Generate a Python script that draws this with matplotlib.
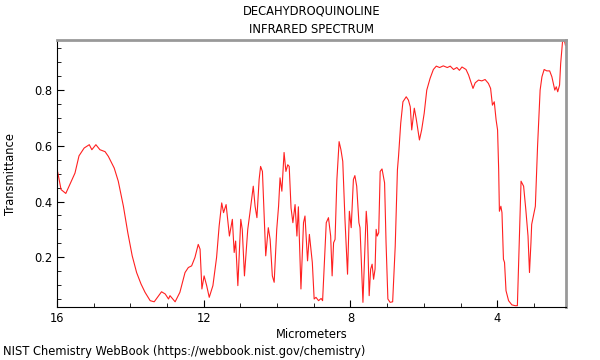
import numpy as np
import matplotlib.pyplot as plt

# spectrum (micrometers, transmittance)
micrometers = [
    15.98, 15.89, 15.76, 15.65, 15.51, 15.40, 15.26, 15.12, 15.05, 14.94,
    14.83, 14.69, 14.60, 14.44, 14.33, 14.19, 14.07, 13.95, 13.83, 13.71,
    13.60, 13.46, 13.35, 13.15, 13.05, 12.96, 12.92, 12.78, 12.65, 12.51,
    12.42, 12.33, 12.24, 12.15, 12.10, 12.05, 11.99, 11.92, 11.85, 11.75,
    11.65, 11.58, 11.51, 11.46, 11.39, 11.30, 11.22, 11.17, 11.13, 11.07,
    10.99, 10.95, 10.89, 10.80, 10.74, 10.65, 10.60, 10.55, 10.49, 10.45,
    10.40, 10.31, 10.24, 10.19, 10.13, 10.08, 10.01, 9.96, 9.92, 9.87,
    9.81, 9.76, 9.71, 9.67, 9.62, 9.57, 9.51, 9.46, 9.42, 9.35,
    9.28, 9.24, 9.17, 9.12, 9.04, 8.99, 8.94, 8.87, 8.80, 8.76,
    8.66, 8.60, 8.54, 8.50, 8.46, 8.42, 8.37, 8.31, 8.26, 8.21,
    8.15, 8.08, 8.03, 7.98, 7.92, 7.88, 7.83, 7.77, 7.74, 7.66,
    7.62, 7.57, 7.54, 7.49, 7.45, 7.41, 7.37, 7.33, 7.30, 7.27,
    7.23, 7.19, 7.14, 7.07, 7.03, 6.98, 6.92, 6.85, 6.78, 6.72,
    6.69, 6.63, 6.57, 6.48, 6.42, 6.37, 6.33, 6.26, 6.21, 6.12,
    6.06, 5.99, 5.92, 5.83, 5.74, 5.66, 5.57, 5.47, 5.36, 5.28,
    5.19, 5.10, 5.03, 4.96, 4.85, 4.78, 4.71, 4.66, 4.60, 4.51,
    4.42, 4.33, 4.24, 4.18, 4.13, 4.08, 4.03, 3.99, 3.96, 3.94,
    3.90, 3.87, 3.83, 3.80, 3.76, 3.69, 3.60, 3.51, 3.45, 3.39,
    3.35, 3.28, 3.22, 3.16, 3.12, 3.08, 3.06, 2.96, 2.90, 2.83,
    2.78, 2.72, 2.65, 2.57, 2.51, 2.47, 2.43, 2.39, 2.35, 2.30,
    2.27, 2.22, 2.17, 2.14,
]
transmittance = [
    0.505, 0.443, 0.429, 0.461, 0.502, 0.564, 0.592, 0.604, 0.586, 0.604,
    0.586, 0.579, 0.562, 0.520, 0.473, 0.383, 0.288, 0.205, 0.145, 0.104,
    0.074, 0.044, 0.040, 0.076, 0.068, 0.050, 0.062, 0.040, 0.074, 0.145,
    0.163, 0.169, 0.199, 0.246, 0.229, 0.086, 0.133, 0.098, 0.056, 0.098,
    0.199, 0.312, 0.395, 0.360, 0.389, 0.276, 0.336, 0.217, 0.258, 0.098,
    0.336, 0.300, 0.133, 0.300, 0.360, 0.455, 0.383, 0.342, 0.479, 0.526,
    0.508, 0.205, 0.306, 0.264, 0.133, 0.110, 0.300, 0.383, 0.485, 0.437,
    0.576, 0.508, 0.532, 0.526, 0.377, 0.324, 0.389, 0.276, 0.381, 0.086,
    0.324, 0.348, 0.187, 0.282, 0.181, 0.050, 0.056, 0.044, 0.052, 0.044,
    0.324, 0.342, 0.276, 0.133, 0.252, 0.264, 0.479, 0.615, 0.586, 0.544,
    0.336, 0.139, 0.365, 0.306, 0.479, 0.493, 0.455, 0.324, 0.306, 0.038,
    0.181, 0.365, 0.312, 0.062, 0.157, 0.175, 0.121, 0.157, 0.300, 0.276,
    0.288, 0.508, 0.517, 0.467, 0.252, 0.050, 0.038, 0.040, 0.240, 0.514,
    0.562, 0.681, 0.758, 0.776, 0.764, 0.740, 0.657, 0.735, 0.699, 0.621,
    0.657, 0.717, 0.800, 0.842, 0.874, 0.886, 0.881, 0.887, 0.881, 0.886,
    0.874, 0.881, 0.871, 0.883, 0.874, 0.854, 0.826, 0.806, 0.826, 0.836,
    0.833, 0.838, 0.824, 0.806, 0.746, 0.758, 0.693, 0.657, 0.514, 0.365,
    0.383, 0.360, 0.193, 0.181, 0.080, 0.044, 0.029, 0.026, 0.026, 0.300,
    0.473, 0.455, 0.371, 0.276, 0.145, 0.252, 0.318, 0.383, 0.598, 0.800,
    0.848, 0.874, 0.869, 0.869, 0.848, 0.824, 0.800, 0.812, 0.794, 0.818,
    0.895, 0.973, 0.979, 0.961,
]

fs = 8.3

fig = plt.figure(figsize=(6, 3.6), dpi=100)
ax = fig.add_axes([0.095, 0.147, 0.848, 0.742])

ax.plot(micrometers, transmittance, color='#ff2020', lw=0.8)

ax.set_xlim(16, 2.13)
ax.set_ylim(0.021, 0.98)
ax.set_xticks([16, 12, 8, 4])
ax.set_xticks(np.arange(3, 16, 1), minor=True)
ax.set_yticks([0.2, 0.4, 0.6, 0.8])
ax.set_yticks(np.arange(0.05, 0.98, 0.05), minor=True)
ax.tick_params(which='both', direction='in', labelsize=fs)
ax.tick_params(which='major', length=5)
ax.tick_params(which='minor', length=3)

for s in ['top', 'right']:
    ax.spines[s].set_color('#999999')
    ax.spines[s].set_linewidth(2)

ax.set_xlabel('Micrometers', fontsize=fs, labelpad=2)
ax.set_ylabel('Transmittance', fontsize=fs, labelpad=12)
ax.set_title('DECAHYDROQUINOLINE\nINFRARED SPECTRUM', fontsize=fs, linespacing=1.55, pad=5)
fig.text(0.005, 0.015, 'NIST Chemistry WebBook (https://webbook.nist.gov/chemistry)', fontsize=fs)

fig.savefig('out.png', dpi=100)
